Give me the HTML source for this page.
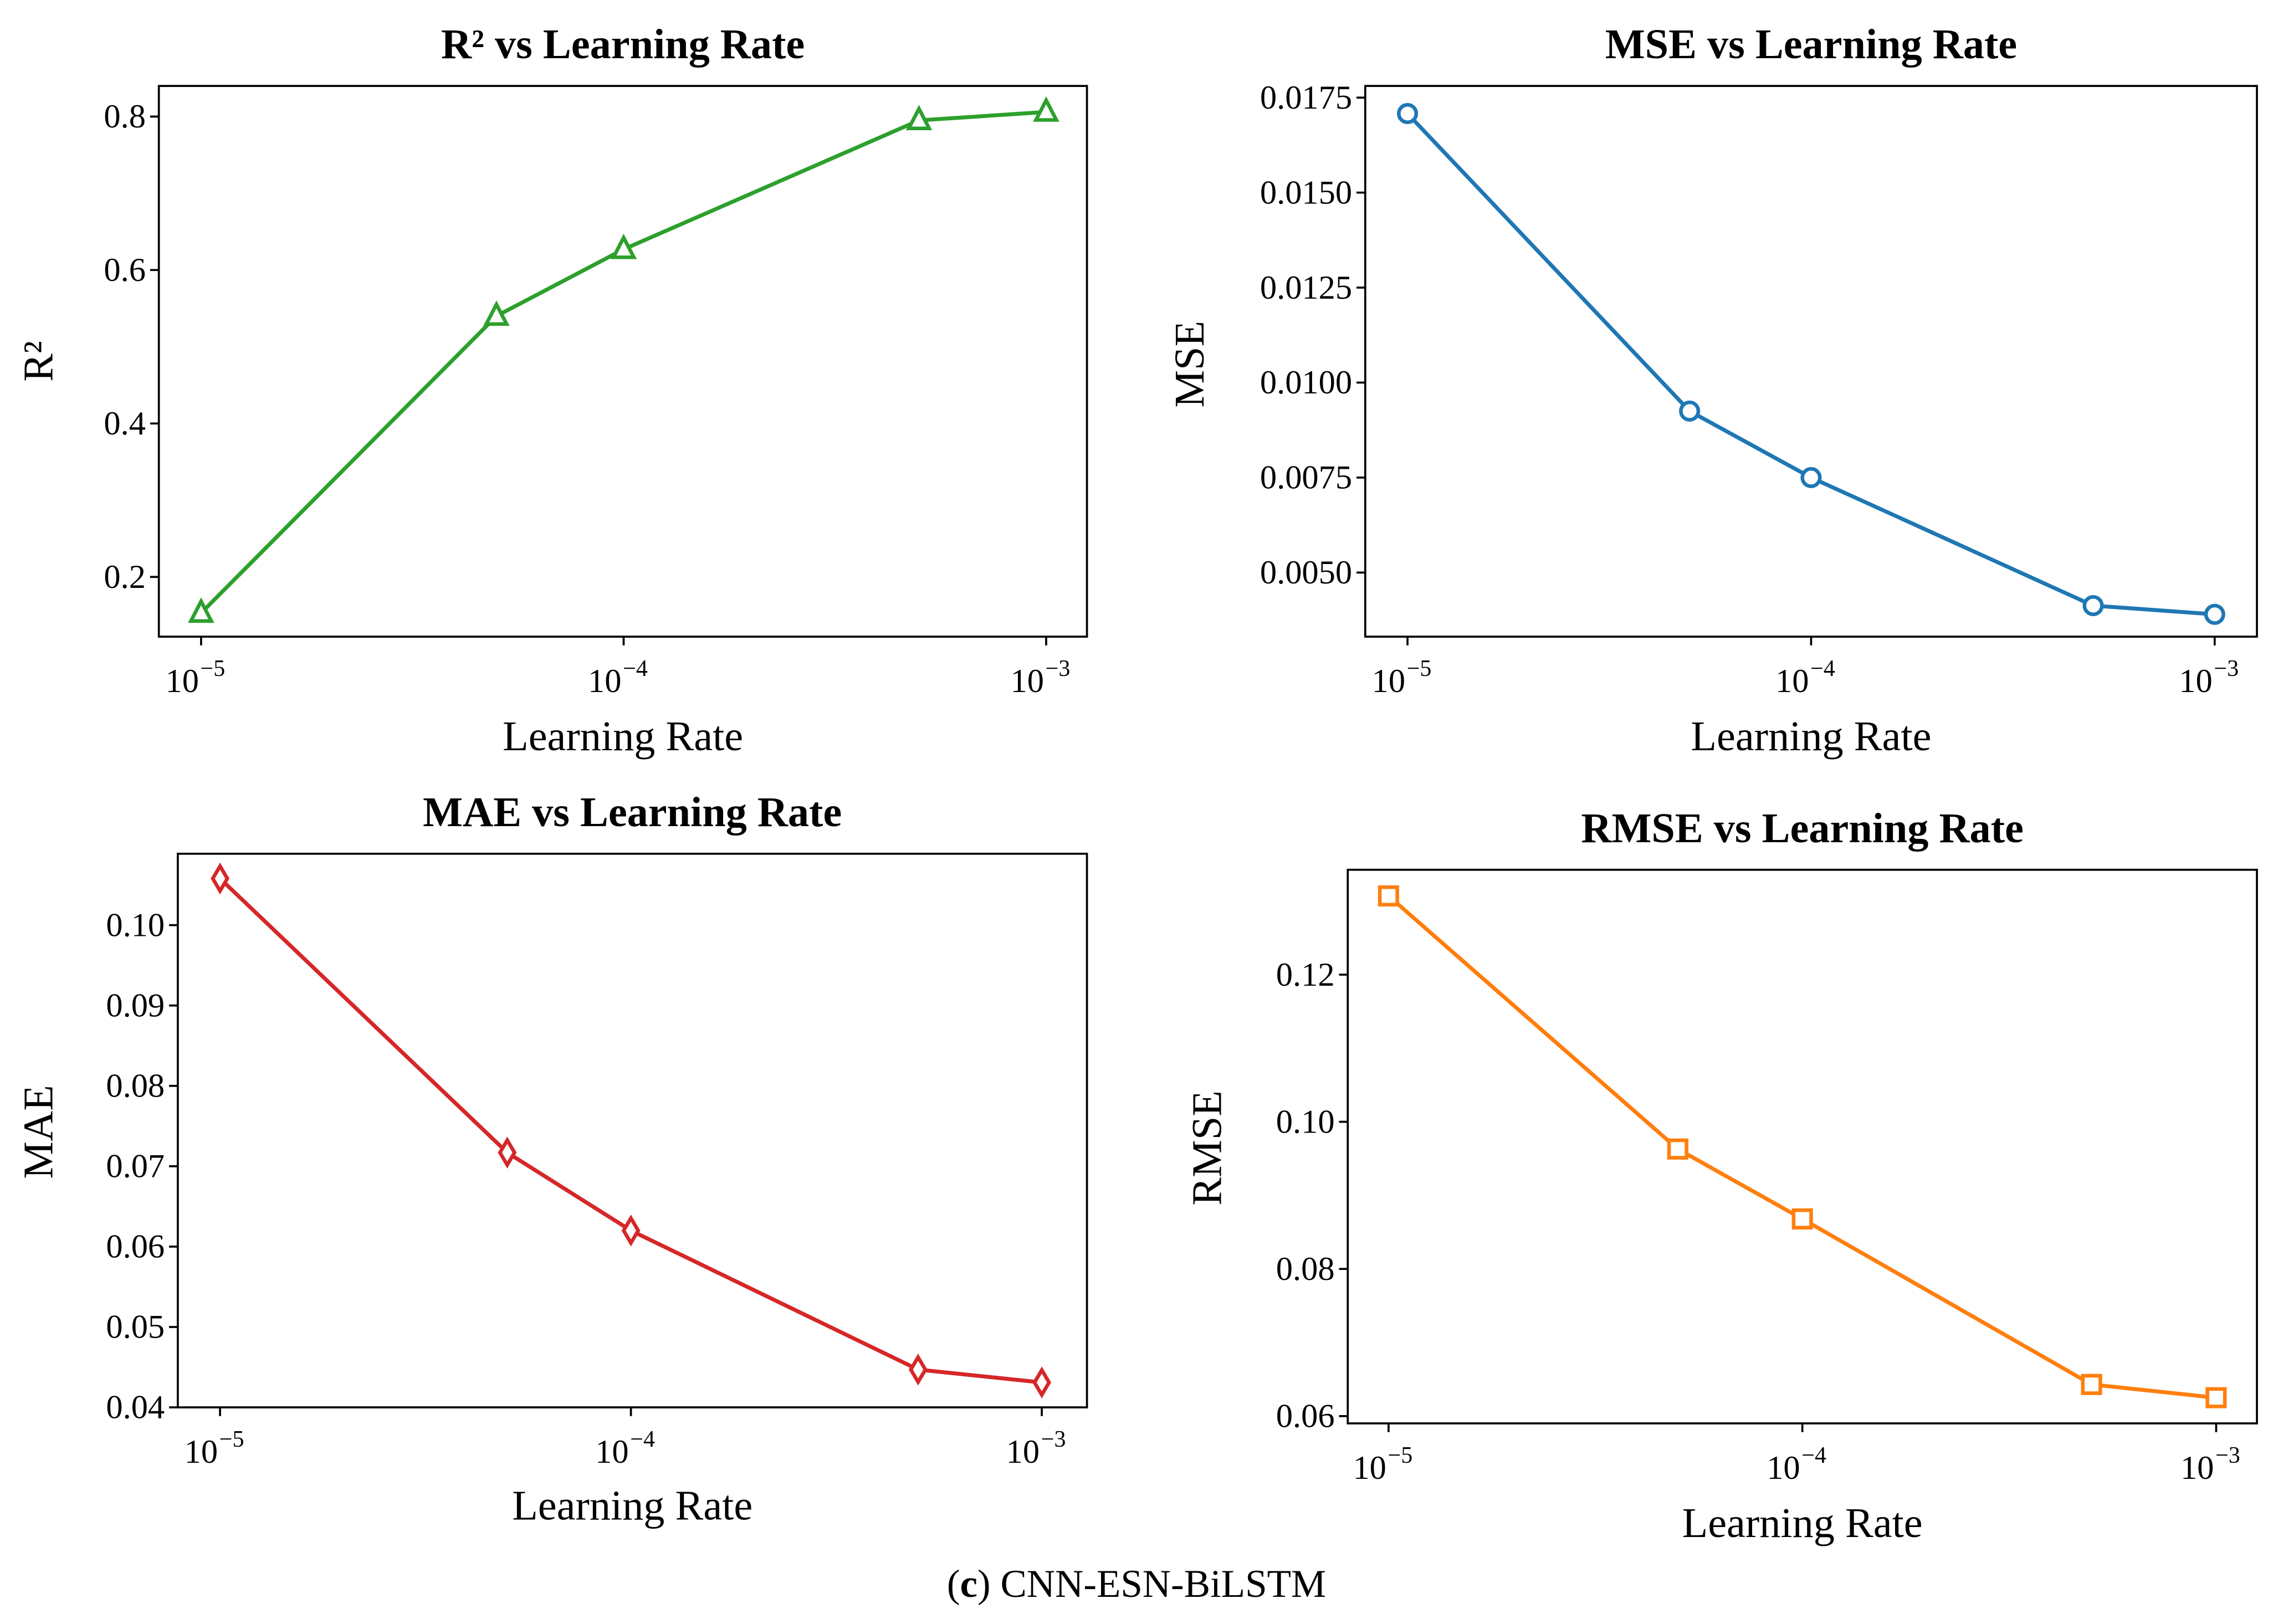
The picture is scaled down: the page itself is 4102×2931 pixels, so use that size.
<!DOCTYPE html>
<html><head><meta charset="utf-8"><style>
html,body{margin:0;padding:0;background:#fff;}
svg{display:block;font-family:"Liberation Serif",serif;}
</style></head><body>
<svg id="fig" width="4102" height="2931" viewBox="0 0 1560 1114.7" xmlns="http://www.w3.org/2000/svg">
<rect width="1560" height="1114.7" fill="#fff"/>
<text x="780" y="1096" text-anchor="middle" font-size="27">(<tspan font-weight="bold">c</tspan>) CNN-ESN-BiLSTM</text>
</svg>
<script>
const learningRates = [1e-5, 5e-5, 1e-4, 5e-4, 1e-3];
const r2Values = [0.153, 0.540, 0.627, 0.795, 0.806];
const mseValues = [0.01708, 0.00925, 0.0075, 0.00413, 0.0039];
const maeValues = [0.1058, 0.0717, 0.0620, 0.0447, 0.0431];
const rmseValues = [0.1307, 0.0963, 0.0868, 0.0643, 0.0625];
const r2Ticks = [0.2, 0.4, 0.6, 0.8];
const mseTicks = [0.0050, 0.0075, 0.0100, 0.0125, 0.0150, 0.0175];
const maeTicks = [0.04, 0.05, 0.06, 0.07, 0.08, 0.09, 0.10];
const rmseTicks = [0.06, 0.08, 0.10, 0.12];
const xTickExps = [-5, -4, -3];

const NS = "http://www.w3.org/2000/svg";
const svg = document.getElementById('fig');
function mk(tag, attrs, parent) {
  const e = document.createElementNS(NS, tag);
  for (const k in attrs) e.setAttribute(k, attrs[k]);
  (parent || svg).appendChild(e);
  return e;
}

const panels = [
  {name:'r2', title:'R² vs Learning Rate', ylabel:'R²', vals:r2Values, ticks:r2Ticks, dec:1, color:'#2ca02c', marker:'tri',
   L:109, R:746, T:59, B:437, xa:138, xb:428, ya:{v:0.8,p:80}, yb:{v:0.2,p:396}, titleY:40, xlabY:515, ylabX:36, ylabY:248},
  {name:'mse', title:'MSE vs Learning Rate', ylabel:'MSE', vals:mseValues, ticks:mseTicks, dec:4, color:'#1f77b4', marker:'circ',
   L:937, R:1549, T:59, B:437, xa:966, xb:1243, ya:{v:0.0175,p:67}, yb:{v:0.0050,p:393}, titleY:40, xlabY:515, ylabX:826, ylabY:250},
  {name:'mae', title:'MAE vs Learning Rate', ylabel:'MAE', vals:maeValues, ticks:maeTicks, dec:2, color:'#d62728', marker:'dia',
   L:122, R:746, T:586, B:966, xa:151, xb:433, ya:{v:0.10,p:635}, yb:{v:0.04,p:966}, titleY:567, xlabY:1043, ylabX:36, ylabY:777},
  {name:'rmse', title:'RMSE vs Learning Rate', ylabel:'RMSE', vals:rmseValues, ticks:rmseTicks, dec:2, color:'#ff7f0e', marker:'sq',
   L:925, R:1549, T:597, B:977, xa:953, xb:1237, ya:{v:0.12,p:669}, yb:{v:0.06,p:972}, titleY:578, xlabY:1055, ylabX:838, ylabY:788}
];

panels.forEach(p => {
  const g = mk('g', {});
  
  
  const xs = v => p.xa + (Math.log10(v) + 5) * (p.xb - p.xa);
  const ys = v => p.yb.p + (v - p.yb.v) * (p.ya.p - p.yb.p) / (p.ya.v - p.yb.v);

  const t = mk('text', {x:(p.L+p.R)/2, y:p.titleY, 'text-anchor':'middle', 'font-size':29, 'font-weight':'bold'}, g);
  t.textContent = p.title;
  
  

  const pts = learningRates.map((lr,i) => xs(lr).toFixed(2) + ',' + ys(p.vals[i]).toFixed(2)).join(' ');
  const line = mk('polyline', {points:pts, fill:'none', stroke:p.color, 'stroke-width':2.7, 'stroke-linejoin':'round'}, g);
  
  

  learningRates.forEach((lr,i) => {
    const cx = xs(lr), cy = ys(p.vals[i]);
    let m;
    const st = {fill:'#fff', stroke:p.color, 'stroke-width':2.5};
    if (p.marker === 'tri') m = mk('polygon', Object.assign({points:`${cx},${cy-8} ${cx-7},${cy+5.5} ${cx+7},${cy+5.5}`}, st), g);
    else if (p.marker === 'circ') m = mk('circle', Object.assign({cx:cx, cy:cy, r:6}, st), g);
    else if (p.marker === 'dia') m = mk('polygon', Object.assign({points:`${cx},${cy-8.5} ${cx+5},${cy} ${cx},${cy+8.5} ${cx-5},${cy}`}, st), g);
    else m = mk('rect', Object.assign({x:cx-6, y:cy-6, width:12, height:12}, st), g);
    
    
  });

  const frame = mk('rect', {x:p.L, y:p.T, width:p.R-p.L, height:p.B-p.T, fill:'none', stroke:'#000', 'stroke-width':1.4}, g);
  
  

  p.ticks.forEach(v => {
    const y = ys(v);
    mk('line', {x1:p.L-6, x2:p.L, y1:y, y2:y, stroke:'#000', 'stroke-width':1.4}, g);
    const tl = mk('text', {x:p.L-9, y:y+7.5, 'text-anchor':'end', 'font-size':23}, g);
    tl.textContent = v.toFixed(p.dec);
    
    
  });

  xTickExps.forEach(e => {
    const x = xs(Math.pow(10, e));
    mk('line', {x1:x, x2:x, y1:p.B, y2:p.B+6, stroke:'#000', 'stroke-width':1.4}, g);
    const tl = mk('text', {x:x-4, y:p.B+38, 'text-anchor':'middle', 'font-size':23}, g);
    tl.textContent = '10';
    const sp = mk('tspan', {dx:1, dy:-11, 'font-size':16}, tl);
    sp.textContent = '\u2212' + (-e);
    
    
  });

  const xl = mk('text', {x:(p.L+p.R)/2, y:p.xlabY, 'text-anchor':'middle', 'font-size':29}, g);
  xl.textContent = 'Learning Rate';
  
  

  const yl = mk('text', {x:p.ylabX, y:p.ylabY, 'text-anchor':'middle', 'font-size':29, transform:`rotate(-90 ${p.ylabX} ${p.ylabY})`}, g);
  yl.textContent = p.ylabel;
  
  
});
</script>
</body></html>
